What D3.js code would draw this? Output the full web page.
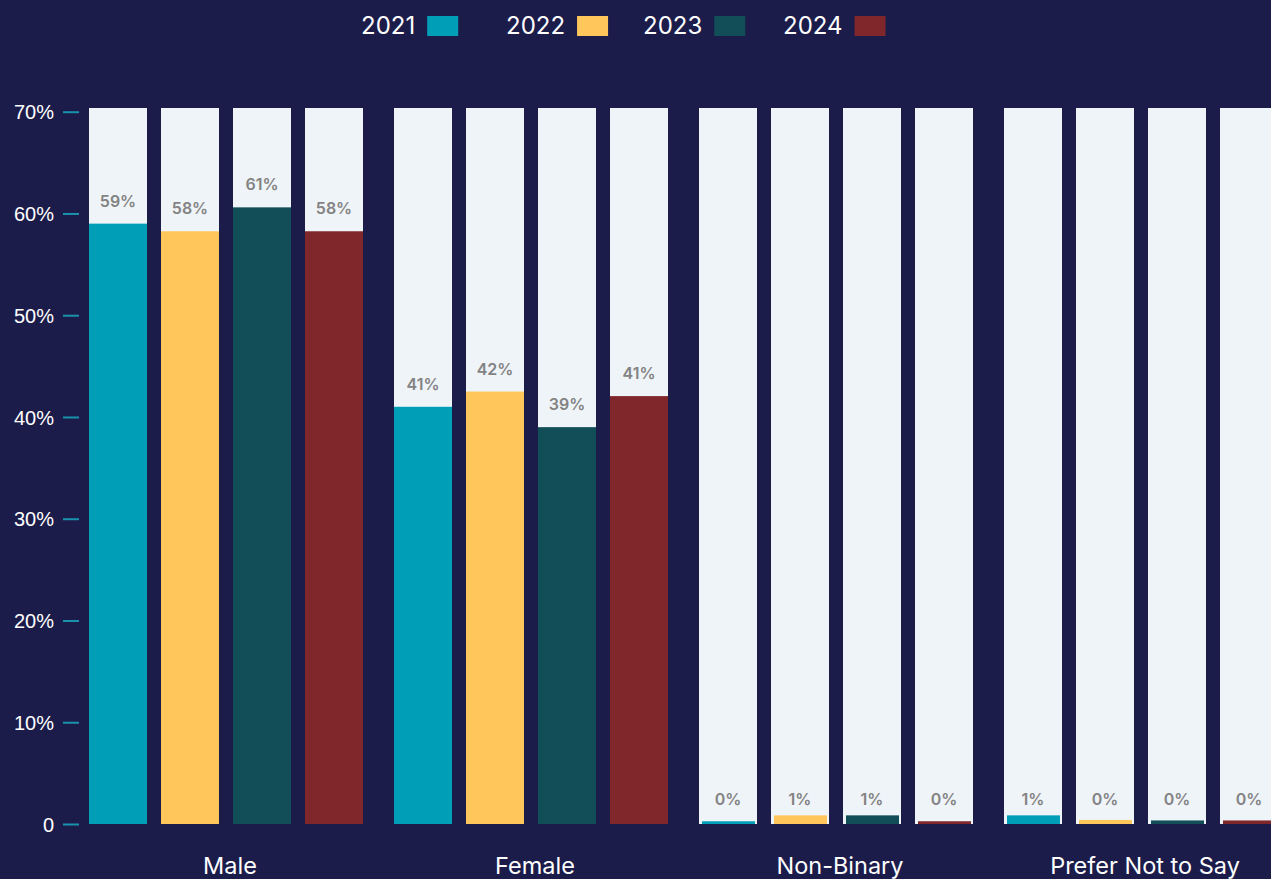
<!DOCTYPE html>
<html>
<head>
<meta charset="utf-8">
<script src="https://cdn.jsdelivr.net/npm/d3@7"></script>
<style>
  html, body { margin: 0; padding: 0; background: #1c1c4b; overflow: hidden; }
  svg { display: block; font-family: "Inter", "DejaVu Sans", sans-serif; }
</style>
</head>
<body>
<div id="chart"></div>
<script>
// Data
const categories = ["Male", "Female", "Non-Binary", "Prefer Not to Say"];
const years = ["2021", "2022", "2023", "2024"];

const values2021 = [59.0, 41.0, 0.27, 0.85];
const values2022 = [58.25, 42.5, 0.85, 0.4];
const values2023 = [60.6, 39.0, 0.85, 0.35];
const values2024 = [58.25, 42.05, 0.27, 0.35];

const labels2021 = ["59%", "41%", "0%", "1%"];
const labels2022 = ["58%", "42%", "1%", "0%"];
const labels2023 = ["61%", "39%", "1%", "0%"];
const labels2024 = ["58%", "41%", "0%", "0%"];

const yTicks = [0, 10, 20, 30, 40, 50, 60, 70];

const colors = ["#019eb7", "#ffc65b", "#114e58", "#7f272b"];

const seriesValues = [values2021, values2022, values2023, values2024];
const seriesLabels = [labels2021, labels2022, labels2023, labels2024];

// Layout
const width = 1271, height = 879;
const axisX = 79;

let svg = d3.select("#chart")
    .append("svg")
    .attr("width", width)
    .attr("height", height);

svg.append("rect")
    .attr("width", width)
    .attr("height", height)
    .attr("fill", "#1c1c4b");

// Scales
let x0 = d3.scaleBand()
    .domain(categories)
    .range([89, 1278])
    .paddingInner(31 / 305)
    .paddingOuter(0);

let x1 = d3.scaleBand()
    .domain(years)
    .range([0, x0.bandwidth()])
    .paddingInner(14 / 72);

let y = d3.scaleLinear()
    .domain([0, 70])
    .range([824, 111.7]);

// flatten into rows
let rows = [];
categories.forEach(function(cat, i) {
    years.forEach(function(yr, j) {
        rows.push({cat: cat, year: yr, value: seriesValues[j][i], label: seriesLabels[j][i], color: colors[j]});
    });
});

// Y axis
let yAxis = svg.append("g")
    .attr("transform", `translate(${axisX}, 0)`)
    .call(d3.axisLeft(y)
        .tickValues(yTicks)
        .tickSize(16)
        .tickPadding(9)
        .tickFormat(d => d === 0 ? "0" : d + "%"));
yAxis.select(".domain").remove();
yAxis.selectAll(".tick line")
    .attr("stroke", "#1992ad")
    .attr("stroke-width", 2);
yAxis.selectAll(".tick text")
    .attr("fill", "#ffffff")
    .style("font-size", "20px")
    .attr("dy", "0.36em");

// Background bars
let groups = svg.append("g");
groups.selectAll("rect.bg")
    .data(rows)
    .enter()
    .append("rect")
    .attr("class", "bg")
    .attr("x", d => x0(d.cat) + x1(d.year))
    .attr("y", y(70) - 3.7)
    .attr("width", x1.bandwidth())
    .attr("height", y(0) - y(70) + 3.7)
    .attr("fill", "#eff4f8");

// Value bars (very short ones sit slightly inset, as in the original)
groups.selectAll("rect.val")
    .data(rows)
    .enter()
    .append("rect")
    .attr("class", "val")
    .attr("x", d => x0(d.cat) + x1(d.year) + (d.value < 2 ? 3 : 0))
    .attr("y", d => y(d.value))
    .attr("width", d => x1.bandwidth() - (d.value < 2 ? 5 : 0))
    .attr("height", d => y(0) - y(d.value))
    .attr("fill", d => d.color);

// Value labels
groups.selectAll("text.lbl")
    .data(rows)
    .enter()
    .append("text")
    .attr("class", "lbl")
    .attr("x", d => x0(d.cat) + x1(d.year) + x1.bandwidth() / 2)
    .attr("y", d => d.value < 2 ? y(0) - 19 : y(d.value) - 17)
    .attr("text-anchor", "middle")
    .attr("fill", "#838383")
    .style("font-size", "16px")
    .style("font-weight", 600)
    .text(d => d.label);

// Category labels
svg.selectAll("text.cat")
    .data(categories)
    .enter()
    .append("text")
    .attr("class", "cat")
    .attr("x", d => x0(d) + x0.bandwidth() / 2 + 4)
    .attr("y", 874)
    .attr("text-anchor", "middle")
    .attr("fill", "#ffffff")
    .style("font-size", "23.5px")
    .text(d => d);

// Legend
const legendX = [361, 506, 643, 783];
let legend = svg.append("g");
years.forEach(function(yr, i) {
    let t = legend.append("text")
        .attr("x", legendX[i])
        .attr("y", 34)
        .attr("fill", "#ffffff")
        .style("font-size", "24px")
        .text(yr);
    let w = t.node().getComputedTextLength();
    legend.append("rect")
        .attr("x", legendX[i] + w + 12)
        .attr("y", 16)
        .attr("width", 31)
        .attr("height", 20)
        .attr("fill", colors[i]);
});
</script>
</body>
</html>
